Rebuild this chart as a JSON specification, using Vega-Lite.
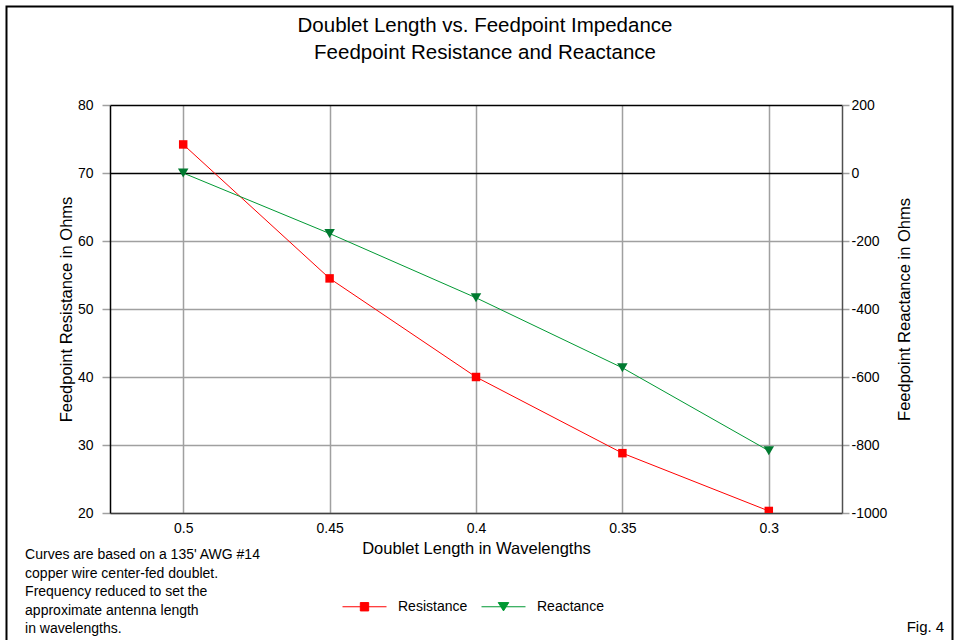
{
  "$schema": "https://vega.github.io/schema/vega-lite/v6.json",
  "width": 732,
  "height": 408,
  "autosize": {"type": "none"},
  "padding": {"left": 110, "top": 105, "right": 117, "bottom": 127},
  "background": "white",
  "config": {
    "font": "Liberation Sans",
    "view": {"stroke": null},
    "axis": {
      "labelFont": "Liberation Sans",
      "titleFont": "Liberation Sans",
      "labelFontSize": 14,
      "labelColor": "#000000",
      "titleFontSize": 16.5,
      "titleFontWeight": "normal",
      "titleColor": "#000000"
    },
    "legend": {
      "padding": 0,
      "symbolSize": 1936,
      "symbolStrokeWidth": 1,
      "labelFontSize": 14,
      "labelColor": "#000000",
      "labelOffset": 11,
      "columnPadding": 11
    }
  },
  "title": {
    "text": ["Doublet Length vs. Feedpoint Impedance", "Feedpoint Resistance and Reactance"],
    "fontSize": 20.5,
    "fontWeight": "normal",
    "color": "#000000",
    "anchor": "middle",
    "frame": "group",
    "offset": -58,
    "dx": 9,
    "lineHeight": 27
  },
  "datasets": {
    "impedance": [
      {"length": 0.5, "series": "Resistance", "value": 74.2},
      {"length": 0.45, "series": "Resistance", "value": 54.5},
      {"length": 0.4, "series": "Resistance", "value": 40.0},
      {"length": 0.35, "series": "Resistance", "value": 28.8},
      {"length": 0.3, "series": "Resistance", "value": 20.3},
      {"length": 0.5, "series": "Reactance", "value": 0},
      {"length": 0.45, "series": "Reactance", "value": -178},
      {"length": 0.4, "series": "Reactance", "value": -367},
      {"length": 0.35, "series": "Reactance", "value": -573},
      {"length": 0.3, "series": "Reactance", "value": -817}
    ]
  },
  "layer": [
    {
      "layer": [
        {
          "data": {"name": "impedance"},
          "transform": [{"filter": "datum.series === 'Resistance'"}],
          "mark": {"type": "line", "color": "#ff0000", "strokeWidth": 1},
          "encoding": {
            "x": {
              "field": "length", "type": "quantitative",
              "title": "Doublet Length in Wavelengths",
              "scale": {"domain": [0.275, 0.525], "reverse": true, "nice": false, "zero": false},
              "axis": {
                "values": [0.5, 0.45, 0.4, 0.35, 0.3],
                "format": "~g",
                "grid": true,
                "gridColor": "#a0a0a0",
                "gridWidth": 1.5,
                "ticks": false,
                "labelPadding": 8,
                "domainColor": "#404040",
                "domainWidth": 1.5,
                "titlePadding": 5
              }
            },
            "y": {
              "field": "value", "type": "quantitative",
              "title": "Feedpoint Resistance in Ohms",
              "scale": {"domain": [20, 80], "nice": false, "zero": false},
              "axis": {
                "orient": "left",
                "values": [20, 25, 30, 35, 40, 45, 50, 55, 60, 65, 70, 75, 80],
                "labelExpr": "datum.value % 10 === 0 ? datum.label : ''",
                "tickSize": {"condition": {"test": "datum.value % 10 === 0", "value": 8}, "value": 4},
                "tickColor": "#a0a0a0",
                "tickWidth": 1.5,
                "grid": true,
                "gridColor": {"condition": {"test": "datum.value === 70 || datum.value === 80", "value": "#000000"}, "value": "#a0a0a0"},
                "gridWidth": 1.5,
                "domainColor": "#000000",
                "domainWidth": 1.5,
                "labelPadding": 9,
                "titlePadding": 3
              }
            }
          }
        },
        {
          "data": {"name": "impedance"},
          "transform": [{"filter": "datum.series === 'Resistance'"}],
          "mark": {"type": "point", "shape": "square", "filled": true, "color": "#ff0000", "size": 72, "opacity": 1, "clip": true},
          "encoding": {
            "x": {"field": "length", "type": "quantitative", "title": "Doublet Length in Wavelengths", "scale": {"domain": [0.275, 0.525], "reverse": true, "nice": false, "zero": false}},
            "y": {"field": "value", "type": "quantitative", "title": "Feedpoint Resistance in Ohms", "scale": {"domain": [20, 80], "nice": false, "zero": false}}
          }
        },
        {
          "data": {"values": [{"note": "Curves are based on a 135' AWG #14\ncopper wire center-fed doublet.\nFrequency reduced to set the\napproximate antenna length\nin wavelengths."}]},
          "mark": {"type": "text", "align": "left", "baseline": "top", "fontSize": 14, "lineHeight": 18.6, "lineBreak": "\n", "color": "#000000"},
          "encoding": {
            "x": {"datum": 0.554, "type": "quantitative", "title": "Doublet Length in Wavelengths", "scale": {"domain": [0.275, 0.525], "reverse": true, "nice": false, "zero": false}},
            "y": {"datum": 14.85, "type": "quantitative", "title": "Feedpoint Resistance in Ohms", "scale": {"domain": [20, 80], "nice": false, "zero": false}},
            "text": {"field": "note"}
          }
        },
        {
          "data": {"values": [{"label": "Fig. 4"}]},
          "mark": {"type": "text", "align": "right", "baseline": "middle", "fontSize": 15, "color": "#000000"},
          "encoding": {
            "x": {"datum": 0.2401, "type": "quantitative", "title": "Doublet Length in Wavelengths", "scale": {"domain": [0.275, 0.525], "reverse": true, "nice": false, "zero": false}},
            "y": {"datum": 3.28, "type": "quantitative", "title": "Feedpoint Resistance in Ohms", "scale": {"domain": [20, 80], "nice": false, "zero": false}},
            "text": {"field": "label"}
          }
        },
        {
          "data": {"values": [{"frame": "outer"}]},
          "mark": {"type": "rect", "fill": null, "stroke": "#000000", "strokeWidth": 2},
          "encoding": {
            "x": {"datum": 0.56035, "type": "quantitative", "title": "Doublet Length in Wavelengths", "scale": {"domain": [0.275, 0.525], "reverse": true, "nice": false, "zero": false}},
            "x2": {"datum": 0.23726},
            "y": {"datum": 94.49, "type": "quantitative", "title": "Feedpoint Resistance in Ohms", "scale": {"domain": [20, 80], "nice": false, "zero": false}},
            "y2": {"datum": 1.03}
          }
        }
      ]
    },
    {
      "layer": [
        {
          "data": {"name": "impedance"},
          "transform": [{"filter": "datum.series === 'Reactance'"}],
          "mark": {"type": "line", "color": "#009933", "strokeWidth": 1},
          "encoding": {
            "x": {"field": "length", "type": "quantitative", "title": "Doublet Length in Wavelengths", "scale": {"domain": [0.275, 0.525], "reverse": true, "nice": false, "zero": false}},
            "y": {
              "field": "value", "type": "quantitative",
              "title": "Feedpoint Reactance in Ohms",
              "scale": {"domain": [-1000, 200], "nice": false, "zero": false},
              "axis": {
                "orient": "right",
                "values": [-1000, -800, -600, -400, -200, 0, 200],
                "labelExpr": "'' + datum.value",
                "grid": false,
                "tickSize": 7,
                "tickColor": "#a0a0a0",
                "tickWidth": 1.5,
                "domainColor": "#505050",
                "domainWidth": 1.5,
                "labelPadding": 2,
                "titlePadding": 10,
                "titleAngle": 270,
                "titleBaseline": "top"
              }
            }
          }
        },
        {
          "data": {"name": "impedance"},
          "transform": [{"filter": "datum.series === 'Reactance'"}],
          "mark": {"type": "point", "shape": "triangle-down", "filled": true, "color": "#007a30", "size": 110, "opacity": 1},
          "encoding": {
            "x": {"field": "length", "type": "quantitative", "title": "Doublet Length in Wavelengths", "scale": {"domain": [0.275, 0.525], "reverse": true, "nice": false, "zero": false}},
            "y": {"field": "value", "type": "quantitative", "title": "Feedpoint Reactance in Ohms", "scale": {"domain": [-1000, 200], "nice": false, "zero": false}}
          }
        },
        {
          "data": {"name": "impedance"},
          "transform": [{"filter": "false"}],
          "mark": {"type": "point", "filled": true, "strokeWidth": 1, "opacity": 1},
          "encoding": {
            "fill": {
              "field": "series", "type": "nominal",
              "scale": {"domain": ["Resistance", "Reactance"], "range": ["#ff0000", "#009933"]},
              "legend": {"title": null, "orient": "none", "legendX": 232, "legendY": 479, "direction": "horizontal"}
            },
            "stroke": {
              "field": "series", "type": "nominal",
              "scale": {"domain": ["Resistance", "Reactance"], "range": ["#ff0000", "#009933"]},
              "legend": {"title": null, "orient": "none", "legendX": 232, "legendY": 479, "direction": "horizontal"}
            },
            "shape": {
              "field": "series", "type": "nominal",
              "scale": {"domain": ["Resistance", "Reactance"], "range": ["M-1,0H1M-0.19,-0.19H0.19V0.19H-0.19Z", "M-1,0H1M-0.24,-0.19L0.24,-0.19L0,0.19Z"]},
              "legend": {"title": null, "orient": "none", "legendX": 232, "legendY": 479, "direction": "horizontal"}
            }
          }
        }
      ]
    }
  ],
  "resolve": {"scale": {"y": "independent"}}
}
